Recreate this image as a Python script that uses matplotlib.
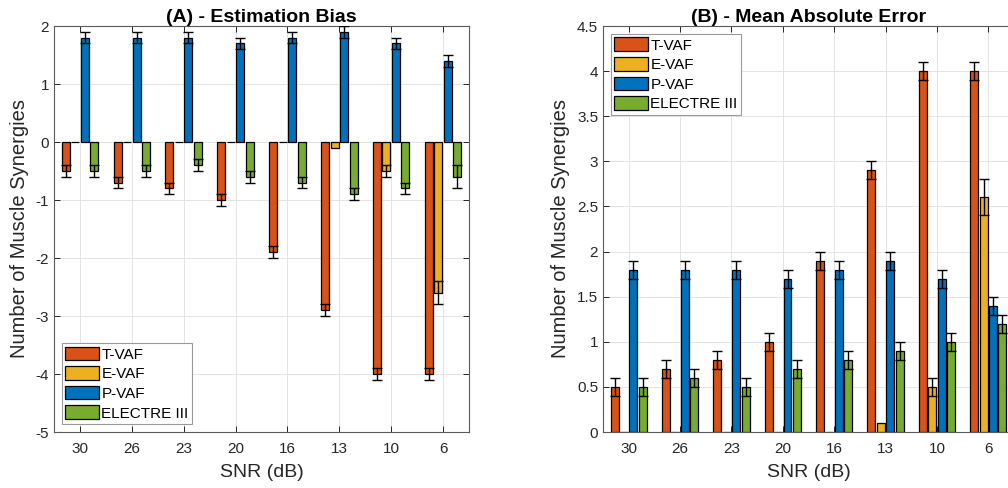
import numpy as np
import matplotlib.pyplot as plt
from matplotlib.ticker import FormatStrFormatter

plt.rcParams['font.family'] = ['Liberation Sans', 'DejaVu Sans']
plt.rcParams['axes.unicode_minus'] = False

snr = ['30', '26', '23', '20', '16', '13', '10', '6']
methods = ['T-VAF', 'E-VAF', 'P-VAF', 'ELECTRE III']
colors = ['#D95319', '#EDB120', '#0072BD', '#77AC30']

# (A) estimation bias
bias_tvaf = [-0.5, -0.7, -0.8, -1.0, -1.9, -2.9, -4.0, -4.0]
bias_evaf = [0, 0, 0, 0, 0, -0.1, -0.5, -2.6]
bias_pvaf = [1.8, 1.8, 1.8, 1.7, 1.8, 1.9, 1.7, 1.4]
bias_electre = [-0.5, -0.5, -0.4, -0.6, -0.7, -0.9, -0.8, -0.6]
bias_err_tvaf = [0.1, 0.1, 0.1, 0.1, 0.1, 0.1, 0.1, 0.1]
bias_err_evaf = [0, 0, 0, 0, 0, 0, 0.1, 0.2]
bias_err_pvaf = [0.1, 0.1, 0.1, 0.1, 0.1, 0.1, 0.1, 0.1]
bias_err_electre = [0.1, 0.1, 0.1, 0.1, 0.1, 0.1, 0.1, 0.2]

# (B) mean absolute error
mae_tvaf = [0.5, 0.7, 0.8, 1.0, 1.9, 2.9, 4.0, 4.0]
mae_evaf = [0, 0, 0, 0, 0, 0.1, 0.5, 2.6]
mae_pvaf = [1.8, 1.8, 1.8, 1.7, 1.8, 1.9, 1.7, 1.4]
mae_electre = [0.5, 0.6, 0.5, 0.7, 0.8, 0.9, 1.0, 1.2]
mae_err_tvaf = [0.1, 0.1, 0.1, 0.1, 0.1, 0.1, 0.1, 0.1]
mae_err_evaf = [0, 0, 0, 0, 0, 0, 0.1, 0.2]
mae_err_pvaf = [0.1, 0.1, 0.1, 0.1, 0.1, 0.1, 0.1, 0.1]
mae_err_electre = [0.1, 0.1, 0.1, 0.1, 0.1, 0.1, 0.1, 0.1]

fig = plt.figure(figsize=(10.08, 4.88), dpi=100)
ax1 = fig.add_axes([54/1008, 56/488, 415/1008, 406/488])
ax2 = fig.add_axes([603/1008, 56/488, 411/1008, 406/488])

step = 0.183
width = 0.155
x = np.arange(1, len(snr) + 1)


def draw(ax, series, errs, ylim, yticks, title, loc):
    for i, (vals, err) in enumerate(zip(series, errs)):
        pos = x + (i - 1.5) * step
        ax.bar(pos, vals, width, color=colors[i], edgecolor='black',
               linewidth=0.9, label=methods[i], zorder=3)
        vals = np.array(vals)
        err = np.array(err)
        m = err > 0
        ax.errorbar(pos[m], vals[m], yerr=err[m], fmt='none', ecolor='black',
                    elinewidth=1.0, capsize=3.5, capthick=1.0, zorder=4)
    ax.set_xlim(0.5, 8.5)
    ax.set_ylim(*ylim)
    ax.set_yticks(yticks)
    ax.yaxis.set_major_formatter(FormatStrFormatter('%g'))
    ax.set_xticks(x)
    ax.set_xticklabels(snr)
    ax.grid(True, color='#e3e3e3', linewidth=0.7, zorder=0)
    ax.set_axisbelow(True)
    ax.tick_params(direction='in', top=True, right=True, length=4,
                   labelsize=11, colors='#262626', width=0.7)
    ax.tick_params(axis='x', pad=7)
    for s in ax.spines.values():
        s.set_color('#5a5a5a')
        s.set_linewidth(0.8)
    ax.set_xlabel('SNR (dB)', fontsize=14, color='#262626', labelpad=6)
    ax.set_ylabel('Number of Muscle Synergies', fontsize=14.5, color='#262626',
                  labelpad=5)
    ax.set_title(title, fontsize=14, fontweight='bold', pad=3)
    leg = ax.legend(loc=loc, fontsize=11, fancybox=False, framealpha=1,
                    edgecolor='#9a9a9a', handlelength=2.2, handleheight=1.0,
                    handletextpad=0.15, labelspacing=0.3, borderpad=0.25,
                    borderaxespad=0.5)
    leg.get_frame().set_linewidth(0.8)


draw(ax1, [bias_tvaf, bias_evaf, bias_pvaf, bias_electre],
     [bias_err_tvaf, bias_err_evaf, bias_err_pvaf, bias_err_electre],
     (-5, 2), np.arange(-5, 3, 1), '(A) - Estimation Bias', 'lower left')
draw(ax2, [mae_tvaf, mae_evaf, mae_pvaf, mae_electre],
     [mae_err_tvaf, mae_err_evaf, mae_err_pvaf, mae_err_electre],
     (0, 4.5), np.arange(0, 4.51, 0.5), '(B) - Mean Absolute Error', 'upper left')

fig.savefig('out.png', dpi=100)
